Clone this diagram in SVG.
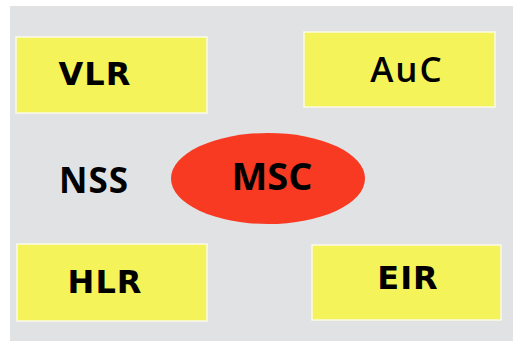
<svg xmlns="http://www.w3.org/2000/svg" width="513" height="341" viewBox="0 0 513 341">
  <style>
    .box { fill: #F5F35A; stroke: #FBFAE6; stroke-width: 1.5; }
    .lbl { font-family: "DejaVu Sans", Verdana, sans-serif; font-weight: bold; font-size: 32px; fill: #000; text-anchor: middle; letter-spacing: 1px; }
    .lbl2 { font-family: "Open Sans", "DejaVu Sans", sans-serif; fill: #000; text-anchor: middle; }
  </style>
  <rect x="0" y="0" width="513" height="341" fill="#FFFFFF"/>
  <!-- gray panel -->
  <rect x="10" y="6" width="503" height="335" fill="#E1E2E4"/>
  <g id="connectors"></g>
  <g id="vlr">
    <rect class="box" x="16" y="37" width="191" height="76"/>
    <text class="lbl" x="95" y="85">VLR</text>
  </g>
  <g id="auc">
    <rect class="box" x="304" y="32" width="191" height="75"/>
    <text class="lbl2" x="407" y="82" font-size="35" font-weight="600" letter-spacing="2">AuC</text>
  </g>
  <g id="nss">
    <text class="lbl2" x="94" y="193" font-size="35" font-weight="bold" letter-spacing="1">NSS</text>
  </g>
  <g id="msc">
    <ellipse cx="268" cy="178.5" rx="97" ry="45.5" fill="#F73A21"/>
    <text class="lbl2" x="272" y="190" font-size="38" font-weight="bold">MSC</text>
  </g>
  <g id="hlr">
    <rect class="box" x="17" y="244" width="190" height="77"/>
    <text class="lbl" x="105" y="293">HLR</text>
  </g>
  <g id="eir">
    <rect class="box" x="312" y="245" width="189" height="75"/>
    <text class="lbl" x="408" y="289" letter-spacing="3">EIR</text>
  </g>
</svg>
